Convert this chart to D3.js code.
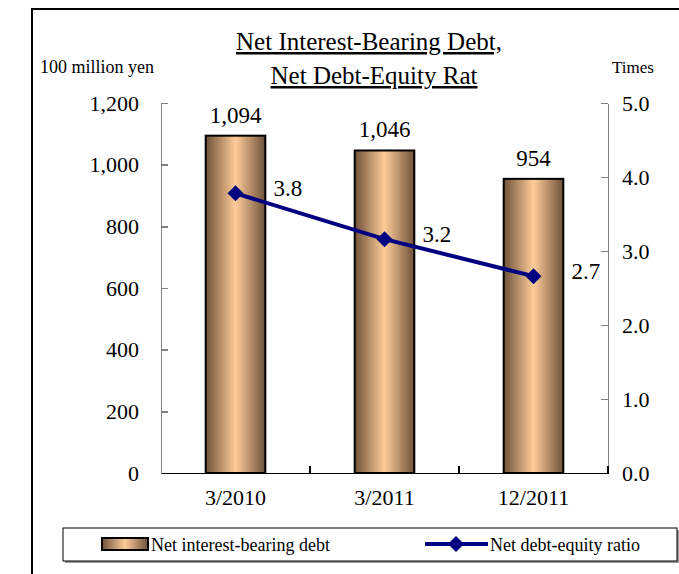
<!DOCTYPE html>
<meta charset="utf-8">
<style>
body { margin: 0; background: #fff; }
text { font-family: 'Liberation Serif', 'Times New Roman', serif; fill: #000; }
.axis path, .axis line { stroke: #808080; stroke-width: 1.5; shape-rendering: crispEdges; }
.axis text { font-size: 22px; }
.xaxis path { stroke: #000; }
</style>
<body>
<script src="https://d3js.org/d3.v7.min.js"></script>
<script>
var categories = ["3/2010", "3/2011", "12/2011"];
var debt = [1094, 1046, 954];
var ratio = [3.78, 3.16, 2.66];
var leftTicks = [0, 200, 400, 600, 800, 1000, 1200];
var rightTicks = [0, 1, 2, 3, 4, 5];

var W = 679, H = 574;
var plot = {left: 161, right: 608, top: 103, bottom: 473};
var serif = "Liberation Serif, Times New Roman, serif";

var svg = d3.select("body").append("svg")
	.attr("width", W)
	.attr("height", H)
	.attr("font-family", serif);

var defs = svg.append("defs");
var grad = defs.append("linearGradient")
	.attr("id", "barGrad")
	.attr("x1", "0%").attr("x2", "100%")
	.attr("y1", "0%").attr("y2", "0%");
grad.append("stop").attr("offset", "0%").attr("stop-color", "#6e5239");
grad.append("stop").attr("offset", "50%").attr("stop-color", "#ffcc99");
grad.append("stop").attr("offset", "100%").attr("stop-color", "#6e5239");

// outer frame
svg.append("rect")
	.attr("x", 32).attr("y", 9)
	.attr("width", 700).attr("height", 600)
	.attr("fill", "none")
	.attr("stroke", "#000")
	.attr("stroke-width", 2);

var x = d3.scaleBand()
	.domain(categories)
	.range([plot.left, plot.right])
	.paddingInner(0.6)
	.paddingOuter(0.3);

var y = d3.scaleLinear().domain([0, 1200]).range([plot.bottom, plot.top]);
var y2 = d3.scaleLinear().domain([0, 5]).range([plot.bottom, plot.top]);

// title
var title = svg.append("text")
	.attr("font-family", serif)
	.attr("font-size", 25)
	.attr("text-decoration", "underline");
title.append("tspan").attr("x", 369).attr("y", 50).attr("text-anchor", "middle").text("Net Interest-Bearing Debt,");
title.append("tspan").attr("x", 374).attr("y", 84).attr("text-anchor", "middle").text("Net Debt-Equity Rat");

svg.append("text")
	.attr("x", 40).attr("y", 73)
	.attr("font-family", serif)
	.attr("font-size", 18)
	.text("100 million yen");
svg.append("text")
	.attr("x", 612).attr("y", 73)
	.attr("font-family", serif)
	.attr("font-size", 17)
	.text("Times");

// bars
svg.selectAll(".bar")
	.data(debt)
	.enter().append("rect")
	.attr("class", "bar")
	.attr("x", function(d, i) { return x(categories[i]); })
	.attr("y", function(d) { return y(d); })
	.attr("width", x.bandwidth())
	.attr("height", function(d) { return y(0) - y(d); })
	.attr("fill", "url(#barGrad)")
	.attr("stroke", "#000")
	.attr("stroke-width", 2);

svg.selectAll(".barLabel")
	.data(debt)
	.enter().append("text")
	.attr("class", "barLabel")
	.attr("x", function(d, i) { return x(categories[i]) + x.bandwidth() / 2; })
	.attr("y", function(d) { return y(d) - 13; })
	.attr("text-anchor", "middle")
	.attr("font-family", serif)
	.attr("font-size", 23)
	.text(function(d) { return d3.format(",")(d); });

// axes
svg.append("g")
	.attr("class", "axis")
	.attr("transform", "translate(" + plot.left + ",0)")
	.call(d3.axisLeft(y).tickValues(leftTicks).tickSize(-7).tickSizeOuter(0)
		.tickPadding(22).tickFormat(d3.format(",")))
	.attr("font-family", serif);

svg.append("g")
	.attr("class", "axis")
	.attr("transform", "translate(" + plot.right + ",0)")
	.call(d3.axisRight(y2).tickValues(rightTicks).tickSize(-7).tickSizeOuter(0)
		.tickPadding(14).tickFormat(d3.format(".1f")))
	.attr("font-family", serif);

svg.append("g")
	.attr("class", "axis xaxis")
	.attr("transform", "translate(0," + plot.bottom + ")")
	.call(d3.axisBottom(x).tickSize(0).tickSizeOuter(0).tickPadding(16))
	.attr("font-family", serif);

// category boundary ticks pointing up
var bounds = categories.map(function(c) { return x(c) - x.step() * x.paddingOuter(); });
bounds.push(plot.right);
svg.selectAll(".btick")
	.data(bounds.slice(1))
	.enter().append("line")
	.attr("class", "btick")
	.attr("x1", function(d) { return d; }).attr("x2", function(d) { return d; })
	.attr("y1", plot.bottom).attr("y2", plot.bottom - 7)
	.attr("stroke", "#000")
	.attr("stroke-width", 1.5)
	.attr("shape-rendering", "crispEdges");

// ratio line
var line = d3.line()
	.x(function(d, i) { return x(categories[i]) + x.bandwidth() / 2; })
	.y(function(d) { return y2(d); });

svg.append("path")
	.attr("d", line(ratio))
	.attr("fill", "none")
	.attr("stroke", "#000080")
	.attr("stroke-width", 4);

var diamond = "M0,-8L8,0L0,8L-8,0Z";
svg.selectAll(".pt")
	.data(ratio)
	.enter().append("path")
	.attr("class", "pt")
	.attr("d", diamond)
	.attr("fill", "#000080")
	.attr("transform", function(d, i) {
		return "translate(" + (x(categories[i]) + x.bandwidth() / 2) + "," + y2(d) + ")";
	});

svg.selectAll(".ptLabel")
	.data(ratio)
	.enter().append("text")
	.attr("class", "ptLabel")
	.attr("x", function(d, i) { return x(categories[i]) + x.bandwidth() / 2 + 38; })
	.attr("y", function(d) { return y2(d) + 3; })
	.attr("font-family", serif)
	.attr("font-size", 23)
	.text(function(d) { return d3.format(".1f")(d); });

// legend
var leg = svg.append("g");
leg.append("rect")
	.attr("x", 65).attr("y", 530).attr("width", 614).attr("height", 33)
	.attr("fill", "#999");
leg.append("rect")
	.attr("x", 63).attr("y", 528).attr("width", 614).attr("height", 33)
	.attr("fill", "#fff")
	.attr("stroke", "#000")
	.attr("stroke-width", 1);
leg.append("rect")
	.attr("x", 102).attr("y", 538).attr("width", 46).attr("height", 12)
	.attr("fill", "url(#barGrad)")
	.attr("stroke", "#000")
	.attr("stroke-width", 2);
leg.append("text")
	.attr("x", 151).attr("y", 551)
	.attr("font-family", serif)
	.attr("font-size", 18)
	.text("Net interest-bearing debt");
leg.append("line")
	.attr("x1", 425).attr("x2", 488)
	.attr("y1", 544).attr("y2", 544)
	.attr("stroke", "#000080")
	.attr("stroke-width", 4);
leg.append("path")
	.attr("d", diamond)
	.attr("transform", "translate(456,544)")
	.attr("fill", "#000080");
leg.append("text")
	.attr("x", 490).attr("y", 551)
	.attr("font-family", serif)
	.attr("font-size", 18)
	.text("Net debt-equity ratio");
</script>
